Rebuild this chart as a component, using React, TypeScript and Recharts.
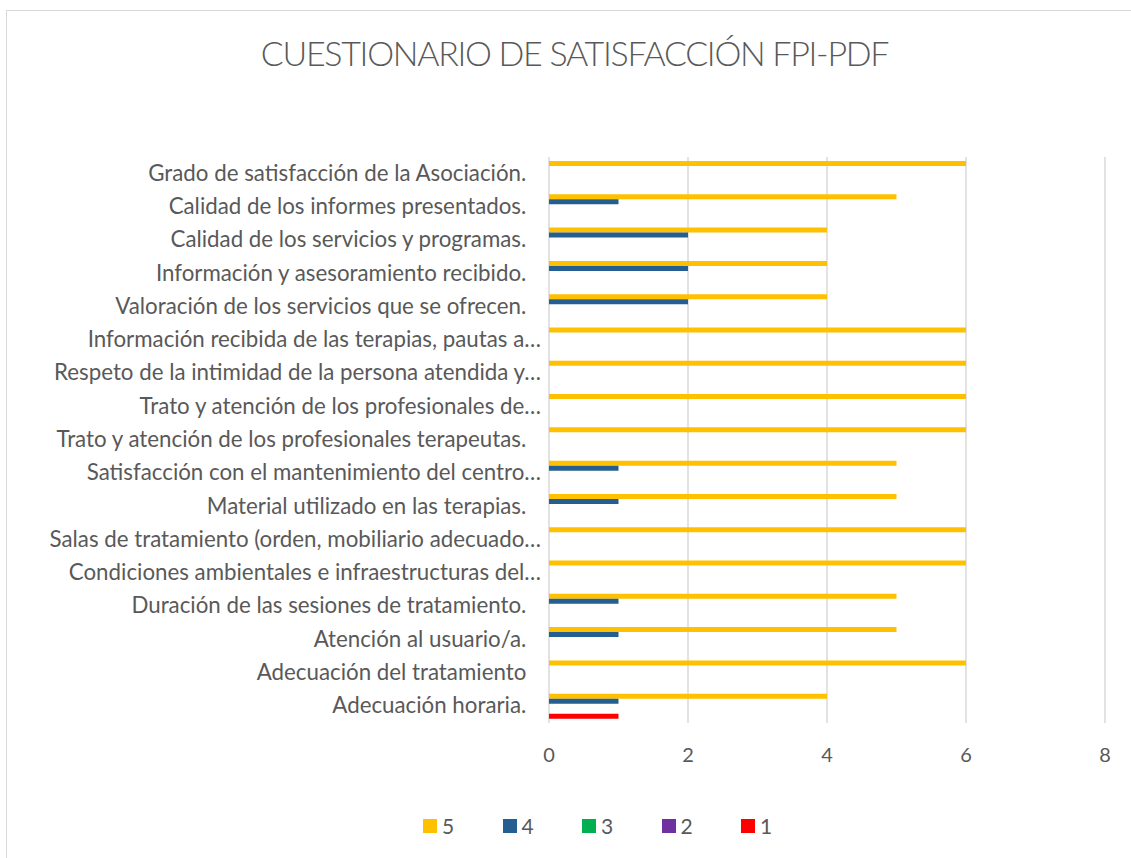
import { BarChart, Bar, XAxis, YAxis, CartesianGrid } from "recharts";

// categories, top to bottom as drawn
const preguntas = [
  "Grado de satisfacción de la Asociación. ",
  "Calidad de los informes presentados. ",
  "Calidad de los servicios y programas. ",
  "Información y asesoramiento recibido. ",
  "Valoración de los servicios que se ofrecen. ",
  "Información recibida de las terapias, pautas a…",
  "Respeto de la intimidad de la persona atendida y…",
  "Trato y atención de los profesionales de…",
  "Trato y atención de los profesionales terapeutas. ",
  "Satisfacción con el mantenimiento del centro…",
  "Material utilizado en las terapias. ",
  "Salas de tratamiento (orden, mobiliario adecuado…",
  "Condiciones ambientales e infraestructuras del…",
  "Duración de las sesiones de tratamiento. ",
  "Atención al usuario/a. ",
  "Adecuación del tratamiento ",
  "Adecuación horaria. ",
];

const puntos5 = [6, 5, 4, 4, 4, 6, 6, 6, 6, 5, 5, 6, 6, 5, 5, 6, 4];
const puntos4 = [0, 1, 2, 2, 2, 0, 0, 0, 0, 1, 1, 0, 0, 1, 1, 0, 1];
const puntos3 = [0, 0, 0, 0, 0, 0, 0, 0, 0, 0, 0, 0, 0, 0, 0, 0, 0];
const puntos2 = [0, 0, 0, 0, 0, 0, 0, 0, 0, 0, 0, 0, 0, 0, 0, 0, 0];
const puntos1 = [0, 0, 0, 0, 0, 0, 0, 0, 0, 0, 0, 0, 0, 0, 0, 0, 1];

const series = [
  { key: "s5", name: "5", color: "#FFC000" },
  { key: "s4", name: "4", color: "#255E91" },
  { key: "s3", name: "3", color: "#00B050" },
  { key: "s2", name: "2", color: "#7030A0" },
  { key: "s1", name: "1", color: "#FF0000" },
];

const xTicks = [0, 2, 4, 6, 8];

const data = preguntas.map((p, i) => ({
  pregunta: p,
  s5: puntos5[i],
  s4: puntos4[i],
  s3: puntos3[i],
  s2: puntos2[i],
  s1: puntos1[i],
}));

const font = "Lato, sans-serif";
const gris = "#595959";

const QuestionTick = (props: any) => {
  const { x, y, payload } = props;
  const label: string = payload.value;
  // excel leaves a wider gap after the labels that end in a space
  const shift = label.endsWith(" ") ? -9 : 0;
  return (
    <text
      x={x + shift}
      y={y}
      dy={7}
      textAnchor="end"
      fill={gris}
      fontSize={22.3}
      fontFamily={font}
      style={{ whiteSpace: "pre" }}
    >
      {label}
    </text>
  );
};

export default function App() {
  return (
    <div style={{ position: "absolute", left: 0, top: 0, width: 1131, height: 858, background: "#fff", overflow: "hidden" }}>
      <div
        style={{
          position: "absolute",
          left: 6,
          top: 10,
          width: 1140,
          height: 870,
          border: "1.5px solid #d9d9d9",
        }}
      />
      <div
        style={{
          position: "absolute",
          left: 0,
          top: 32,
          width: 1149,
          textAlign: "center",
          fontFamily: font,
          fontWeight: 300,
          fontSize: 34,
          letterSpacing: -1.3,
          color: gris,
        }}
      >
        CUESTIONARIO DE SATISFACCIÓN FPI-PDF
      </div>
      <div style={{ position: "absolute", left: 0, top: 0 }}>
        <BarChart
          width={1131}
          height={858}
          data={data}
          layout="vertical"
          margin={{ top: 157, right: 26, bottom: 105, left: 0 }}
          barCategoryGap="12%"
          barGap={0}
        >
          <CartesianGrid horizontal={false} stroke="#d9d9d9" strokeWidth={1.5} />
          <XAxis
            type="number"
            domain={[0, 8]}
            ticks={xTicks}
            axisLine={false}
            tickLine={false}
            height={30}
            tickMargin={19}
            tick={{ fill: gris, fontSize: 20, fontFamily: font }}
          />
          <YAxis
            type="category"
            dataKey="pregunta"
            width={549}
            axisLine={false}
            tickLine={false}
            tickSize={0}
            tickMargin={8}
            interval={0}
            tick={<QuestionTick />}
          />
          {series.map((s) => (
            <Bar key={s.key} dataKey={s.key} name={s.name} fill={s.color} isAnimationActive={false} />
          ))}
        </BarChart>
      </div>
      <div
        style={{
          position: "absolute",
          left: 423,
          top: 813,
          display: "flex",
          fontFamily: font,
          fontSize: 21,
          color: gris,
        }}
      >
        {series.map((s) => (
          <div key={s.key} style={{ width: 79.5, display: "flex", alignItems: "center" }}>
            <span style={{ width: 14, height: 14, background: s.color, marginRight: 5, display: "inline-block" }} />
            <span>{s.name}</span>
          </div>
        ))}
      </div>
    </div>
  );
}
